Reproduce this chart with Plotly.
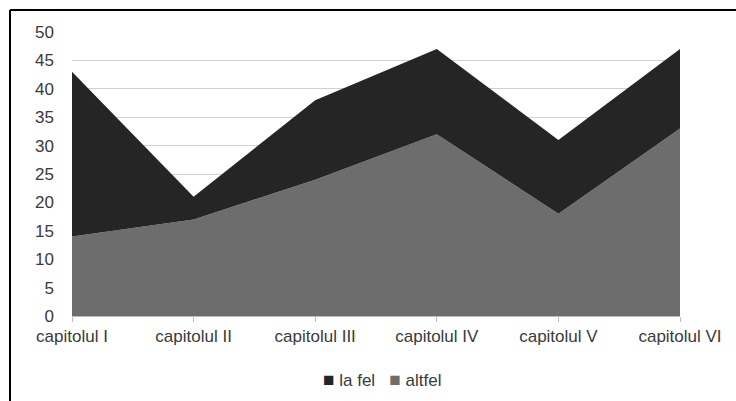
import plotly.graph_objects as go

# Chapter categories and counts per answer
capitole = ["capitolul I", "capitolul II", "capitolul III", "capitolul IV", "capitolul V", "capitolul VI"]
altfel = [14, 17, 24, 32, 18, 33]
la_fel = [29, 4, 14, 15, 13, 14]
y_ticks = [0, 5, 10, 15, 20, 25, 30, 35, 40, 45, 50]
legend_items = [("la fel", "#252525"), ("altfel", "#6d6d6d")]

DARK = "#252525"
GRAY = "#6d6d6d"
FONT = dict(family="Liberation Sans, Arial, sans-serif", size=17, color="#3a3a3a")

fig = go.Figure()

# stacked areas: "altfel" at the bottom, "la fel" on top
fig.add_trace(go.Scatter(
    x=capitole, y=altfel, name="altfel", stackgroup="one",
    mode="lines", line=dict(width=0, color=GRAY), fillcolor=GRAY,
    showlegend=False, hoverinfo="x+y+name"))
fig.add_trace(go.Scatter(
    x=capitole, y=la_fel, name="la fel", stackgroup="one",
    mode="lines", line=dict(width=0, color=DARK), fillcolor=DARK,
    showlegend=False, hoverinfo="x+y+name"))

L, R, T, B = 72, 56, 32, 85
W, H = 736, 401
pw, ph = W - L - R, H - T - B

def px_x(p):
    return (p - L) / pw

def px_y(p):
    return (H - B - p) / ph

# compact legend row with square keys
legend_text = "&nbsp;&nbsp;&nbsp;".join(
    f"<span style='color:{c};font-size:19px'>■</span>&nbsp;{n}" for n, c in legend_items)

fig.update_layout(
    width=W, height=H,
    margin=dict(l=L, r=R, t=T, b=B, autoexpand=False),
    paper_bgcolor="white", plot_bgcolor="white",
    font=FONT, showlegend=False,
    xaxis=dict(
        type="category", range=[0, len(capitole) - 1], automargin=False,
        showgrid=False, showline=True, linecolor="#bdbdbd", linewidth=1,
        ticks="outside", ticklen=5, tickcolor="#bdbdbd",
        tickfont=FONT, zeroline=False),
    yaxis=dict(
        range=[0, 50], tickvals=y_ticks, showgrid=True, automargin=False,
        gridcolor="#d0d0d0", gridwidth=1, zeroline=False,
        showline=False, ticks="", tickfont=FONT, ticklabelstandoff=17),
    annotations=[dict(
        xref="paper", yref="paper", x=px_x(382), y=px_y(379),
        xanchor="center", yanchor="middle", showarrow=False,
        text=legend_text, font=dict(family=FONT["family"], size=17, color="#3a3a3a"))],
    shapes=[
        dict(type="line", xref="paper", yref="paper",
             x0=px_x(10), x1=px_x(740), y0=px_y(10), y1=px_y(10),
             line=dict(color="black", width=2)),
        dict(type="line", xref="paper", yref="paper",
             x0=px_x(10), x1=px_x(10), y0=px_y(10), y1=px_y(405),
             line=dict(color="black", width=2)),
    ],
)

fig.write_html("out.html")
